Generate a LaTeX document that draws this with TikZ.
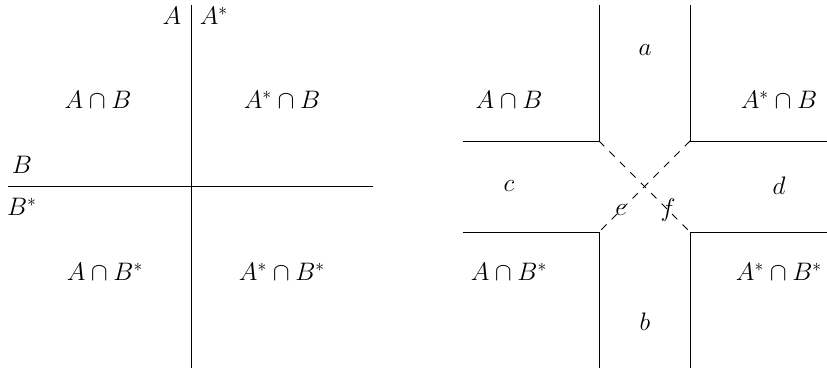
\documentclass[tikz,border=0pt]{standalone}
\usepackage{amssymb}
\begin{document}
\begin{tikzpicture}[
    setLabel/.style={inner sep=1pt,font=\fontsize{13.8}{16}\selectfont},
    setLine/.style={line width=0.55pt},
    cutLine/.style={line width=0.55pt,dash pattern=on 4.2pt off 4.2pt},
]
\useasboundingbox (0,0) rectangle (16.54,7.44);
% left: two crossing lines
\coordinate (lTop) at (3.82,7.34);
\coordinate (lBot) at (3.82,0.08);
\coordinate (lLeft) at (0.16,3.72);
\coordinate (lRight) at (7.46,3.72);
\draw[setLine] (lTop) -- (lBot);
\draw[setLine] (lLeft) -- (lRight);
\node[setLabel,inner sep=0pt,anchor=base] (lA) at (3.44,6.95) {$A$};
\node[setLabel,inner sep=0pt,anchor=base] (lAs) at (4.28,6.95) {$A^*$};
\node[setLabel] (lB) at (0.44,4.14) {$B$};
\node[setLabel] (lBs) at (0.44,3.30) {$B^*$};
\node[setLabel] (lAB) at (1.96,5.44) {$A\cap B$};
\node[setLabel] (lAsB) at (5.64,5.44) {$A^*\cap B$};
\node[setLabel] (lABs) at (2.10,2.00) {$A\cap B^*$};
\node[setLabel] (lAsBs) at (5.64,2.00) {$A^*\cap B^*$};
% right: four corners and the dashed cross
\coordinate (cNW) at (11.98,4.62);
\coordinate (cNE) at (13.80,4.62);
\coordinate (cSW) at (11.98,2.80);
\coordinate (cSE) at (13.80,2.80);
\coordinate (nwTop) at (11.98,7.34);
\coordinate (nwEnd) at (9.26,4.62);
\coordinate (neTop) at (13.80,7.34);
\coordinate (neEnd) at (16.54,4.62);
\coordinate (swBot) at (11.98,0.08);
\coordinate (swEnd) at (9.26,2.80);
\coordinate (seBot) at (13.80,0.08);
\coordinate (seEnd) at (16.54,2.80);
\draw[setLine] (nwTop) -- (cNW) -- (nwEnd);
\draw[setLine] (neTop) -- (cNE) -- (neEnd);
\draw[setLine] (swBot) -- (cSW) -- (swEnd);
\draw[setLine] (seBot) -- (cSE) -- (seEnd);
\draw[cutLine] (cNW) -- (cSE);
\draw[cutLine] (cNE) -- (cSW);
\node[setLabel] (ra) at (12.90,6.44) {$a$};
\node[setLabel] (rb) at (12.90,1.00) {$b$};
\node[setLabel] (rc) at (10.18,3.72) {$c$};
\node[setLabel] (rd) at (15.58,3.72) {$d$};
\node[setLabel] (re) at (12.42,3.24) {$e$};
\node[setLabel] (rf) at (13.36,3.24) {$f$};
\node[setLabel] (rAB) at (10.18,5.44) {$A\cap B$};
\node[setLabel] (rAsB) at (15.58,5.44) {$A^*\cap B$};
\node[setLabel] (rABs) at (10.18,2.00) {$A\cap B^*$};
\node[setLabel] (rAsBs) at (15.58,2.00) {$A^*\cap B^*$};
\end{tikzpicture}
\end{document}
